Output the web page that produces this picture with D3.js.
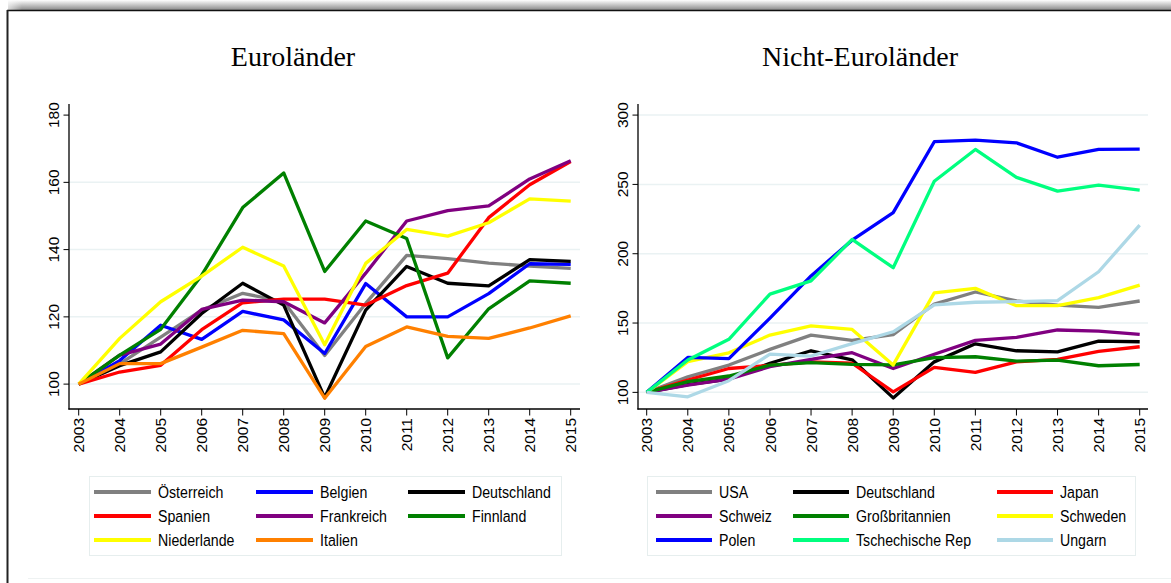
<!DOCTYPE html>
<html>
<head>
<meta charset="utf-8">
<script src="https://cdn.jsdelivr.net/npm/d3@7"></script>
<style>
  body { margin: 0; background: #fff; }
  svg { display: block; }
</style>
</head>
<body>
<svg id="chart" width="1171" height="583"></svg>
<script>
// Years on the x axis
const years = [2003, 2004, 2005, 2006, 2007, 2008, 2009, 2010, 2011, 2012, 2013, 2014, 2015];

// Euroländer (index 2003 = 100)
const oesterreich = [100, 106, 114, 122, 127, 124.5, 108.5, 124, 138.3, 137.3, 136, 135.1, 134.4];
const belgien     = [100, 107, 117.5, 113.3, 121.6, 119.1, 109.1, 129.9, 120, 120, 126.9, 135.8, 135.6];
const deutschland = [100, 105.5, 109.6, 121, 130, 123.5, 96, 122, 135, 130, 129.2, 137, 136.5];
const spanien     = [100, 103.6, 105.6, 116.2, 124.2, 125.3, 125.3, 123.5, 129.3, 133, 149.5, 159.3, 166.2];
const frankreich  = [100, 108.6, 111.9, 122.2, 125, 124.5, 118.2, 133, 148.5, 151.6, 153, 161, 166.4];
const finnland    = [100, 108.6, 116.3, 132.4, 152.5, 162.8, 133.5, 148.5, 143.3, 107.8, 122.4, 130.7, 130];
const niederlande = [100, 113.6, 124.5, 132.1, 140.7, 135.1, 111.7, 135.9, 146, 144, 148, 155.1, 154.4];
const italien     = [100, 106.1, 106.1, 111, 116, 115, 95.8, 111.2, 117, 114.2, 113.6, 116.7, 120.3];

// Nicht-Euroländer
const usa          = [100, 111.2, 119.7, 131, 141.3, 137.5, 141.6, 163.7, 172.4, 166, 163, 161.3, 165.9];
const japan        = [100, 108.9, 117.2, 119.5, 122, 121, 100.3, 118, 114.4, 122, 123.8, 129.5, 132.9];
const schweiz      = [100, 105.3, 109.5, 118.5, 123.8, 128.6, 117.2, 127.5, 137.5, 139.6, 145, 144.2, 141.8];
const grossbrit    = [100, 107.7, 111.8, 119.6, 121.4, 120.2, 119.8, 125, 125.7, 122.6, 123.3, 119.2, 120.1];
const schweden     = [100, 122.1, 128.5, 141.3, 147.9, 145.4, 119.8, 171.8, 175, 162.5, 162.6, 168.3, 177.4];
const polen        = [100, 125.2, 124.3, 153.5, 184, 209.8, 229.6, 280.8, 282, 280, 269.6, 275.2, 275.4];
const tschechien   = [100, 123.3, 138.3, 170.9, 180.4, 210.3, 189.9, 252.3, 275.2, 255.1, 245.2, 249.5, 245.8];
const ungarn       = [100, 96.8, 108.4, 127.6, 126.2, 135.2, 143.7, 163.1, 165, 165.4, 166.2, 187, 220.6];

// Series lists (legend order = drawing order)
const euroSeries = [
  { name: 'Österreich', color: '#808080', values: oesterreich },
  { name: 'Belgien', color: '#0000ff', values: belgien },
  { name: 'Deutschland', color: '#000000', values: deutschland },
  { name: 'Spanien', color: '#ff0000', values: spanien },
  { name: 'Frankreich', color: '#800080', values: frankreich },
  { name: 'Finnland', color: '#008000', values: finnland },
  { name: 'Niederlande', color: '#ffff00', values: niederlande },
  { name: 'Italien', color: '#ff8000', values: italien }
];
const nonEuroSeries = [
  { name: 'USA', color: '#808080', values: usa },
  { name: 'Deutschland', color: '#000000', values: deutschland },
  { name: 'Japan', color: '#ff0000', values: japan },
  { name: 'Schweiz', color: '#800080', values: schweiz },
  { name: 'Großbritannien', color: '#008000', values: grossbrit },
  { name: 'Schweden', color: '#ffff00', values: schweden },
  { name: 'Polen', color: '#0000ff', values: polen },
  { name: 'Tschechische Rep', color: '#00ff7f', values: tschechien },
  { name: 'Ungarn', color: '#add8e6', values: ungarn }
];

const euroTicks = [100, 120, 140, 160, 180];
const nonEuroTicks = [100, 150, 200, 250, 300];

const svg = d3.select('#chart');

// Outer frame with a soft shadow on top
const defs = svg.append('defs');
const grad = defs.append('linearGradient').attr('id', 'shade').attr('x1', 0).attr('y1', 0).attr('x2', 0).attr('y2', 1);
grad.append('stop').attr('offset', '0%').attr('stop-color', '#ffffff');
grad.append('stop').attr('offset', '100%').attr('stop-color', '#8a8a8a');
const gradL = defs.append('linearGradient').attr('id', 'shadeL').attr('x1', 0).attr('y1', 0).attr('x2', 1).attr('y2', 0);
gradL.append('stop').attr('offset', '0%').attr('stop-color', '#ffffff').attr('stop-opacity', 1);
gradL.append('stop').attr('offset', '100%').attr('stop-color', '#ffffff').attr('stop-opacity', 0);

svg.append('rect').attr('x', 8).attr('y', 0).attr('width', 1163).attr('height', 10).attr('fill', 'url(#shade)');
svg.append('rect').attr('x', 0).attr('y', 0).attr('width', 22).attr('height', 10).attr('fill', 'url(#shadeL)');
svg.append('line').attr('x1', 7).attr('x2', 1171).attr('y1', 10.5).attr('y2', 10.5)
  .attr('stroke', '#111').attr('stroke-width', 1.5);
svg.append('line').attr('x1', 7.5).attr('x2', 7.5).attr('y1', 10).attr('y2', 583)
  .attr('stroke', '#222').attr('stroke-width', 2);
svg.append('line').attr('x1', 28).attr('x2', 1171).attr('y1', 578.5).attr('y2', 578.5)
  .attr('stroke', '#eef2f2').attr('stroke-width', 1);

const panels = [
  {
    title: 'Euroländer', titleX: 293, series: euroSeries, ticks: euroTicks,
    axisLeft: 69, axisRight: 580, xRange: [78.7, 570.7], yDomain: [92.6, 183.3],
    gridTicks: [100, 120, 140, 160],
    legend: { x: 89, w: 472, cols: [94, 256, 408], swLen: 57 }
  },
  {
    title: 'Nicht-Euroländer', titleX: 860, series: nonEuroSeries, ticks: nonEuroTicks,
    axisLeft: 638, axisRight: 1148, xRange: [646.7, 1139.7], yDomain: [88, 308],
    gridTicks: [100, 150, 200, 250, 300],
    legend: { x: 647, w: 488, cols: [656, 793, 997], swLen: 56 }
  }
];

const plotTop = 104, plotBottom = 409;

panels.forEach(p => {
  const g = svg.append('g');
  const x = d3.scaleLinear().domain([2003, 2015]).range(p.xRange);
  const y = d3.scaleLinear().domain(p.yDomain).range([plotBottom, plotTop]);

  // Title
  g.append('text')
    .attr('x', p.titleX).attr('y', 66)
    .attr('text-anchor', 'middle')
    .attr('font-family', '"Liberation Serif", "Times New Roman", serif')
    .attr('font-size', 28)
    .text(p.title);

  // Gridlines
  g.selectAll('line.grid')
    .data(p.gridTicks)
    .enter()
    .append('line')
    .attr('class', 'grid')
    .attr('x1', p.axisLeft).attr('x2', p.axisRight)
    .attr('y1', d => y(d)).attr('y2', d => y(d))
    .attr('stroke', '#eaf2f3').attr('stroke-width', 1.5);

  // Lines
  const line = d3.line()
    .x((d, i) => x(years[i]))
    .y(d => y(d));
  g.selectAll('path.series')
    .data(p.series)
    .enter()
    .append('path')
    .attr('class', 'series')
    .attr('d', d => line(d.values))
    .attr('fill', 'none')
    .attr('stroke', d => d.color)
    .attr('stroke-width', 3.3)
    .attr('stroke-linejoin', 'round');

  // Y axis
  g.append('line')
    .attr('x1', p.axisLeft).attr('x2', p.axisLeft)
    .attr('y1', plotTop).attr('y2', plotBottom + 0.5)
    .attr('stroke', '#000').attr('stroke-width', 1.3);
  const yt = g.selectAll('g.ytick').data(p.ticks).enter().append('g').attr('class', 'ytick');
  yt.append('line')
    .attr('x1', p.axisLeft - 5.5).attr('x2', p.axisLeft)
    .attr('y1', d => y(d)).attr('y2', d => y(d))
    .attr('stroke', '#000').attr('stroke-width', 1);
  yt.append('text')
    .attr('transform', d => `translate(${p.axisLeft - 10},${y(d)}) rotate(-90)`)
    .attr('text-anchor', 'middle')
    .attr('font-family', 'Arial, "Liberation Sans", sans-serif')
    .attr('font-size', 15.5)
    .text(d => d);

  // X axis
  g.append('line')
    .attr('x1', p.axisLeft - 0.6).attr('x2', p.axisRight)
    .attr('y1', plotBottom).attr('y2', plotBottom)
    .attr('stroke', '#000').attr('stroke-width', 1.3);
  const xt = g.selectAll('g.xtick').data(years).enter().append('g').attr('class', 'xtick');
  xt.append('line')
    .attr('x1', d => x(d)).attr('x2', d => x(d))
    .attr('y1', plotBottom).attr('y2', plotBottom + 6.5)
    .attr('stroke', '#000').attr('stroke-width', 1);
  xt.append('text')
    .attr('transform', d => `translate(${x(d)},${plotBottom + 9}) rotate(-90)`)
    .attr('text-anchor', 'end')
    .attr('dy', '0.36em')
    .attr('font-family', 'Arial, "Liberation Sans", sans-serif')
    .attr('font-size', 15.5)
    .text(d => d);

  // Legend
  const lg = g.append('g');
  lg.append('rect')
    .attr('x', p.legend.x + 0.5).attr('y', 476.5)
    .attr('width', p.legend.w).attr('height', 79)
    .attr('fill', '#fff').attr('stroke', '#e6eeee').attr('stroke-width', 1);
  const items = lg.selectAll('g.item')
    .data(p.series)
    .enter()
    .append('g')
    .attr('class', 'item')
    .attr('transform', (d, i) => `translate(${p.legend.cols[i % 3]},${492 + Math.floor(i / 3) * 24})`);
  items.append('line')
    .attr('x1', 0).attr('x2', p.legend.swLen)
    .attr('y1', 0).attr('y2', 0)
    .attr('stroke', d => d.color).attr('stroke-width', 4);
  // condensed sans text, like the narrow legend font of the original
  items.append('text')
    .attr('transform', `translate(${p.legend.swLen + 7},0) scale(0.86,1)`)
    .attr('dy', '0.36em')
    .attr('font-family', 'Arial, "Liberation Sans", sans-serif')
    .attr('font-size', 16.5)
    .text(d => d.name);
});
</script>
</body>
</html>
